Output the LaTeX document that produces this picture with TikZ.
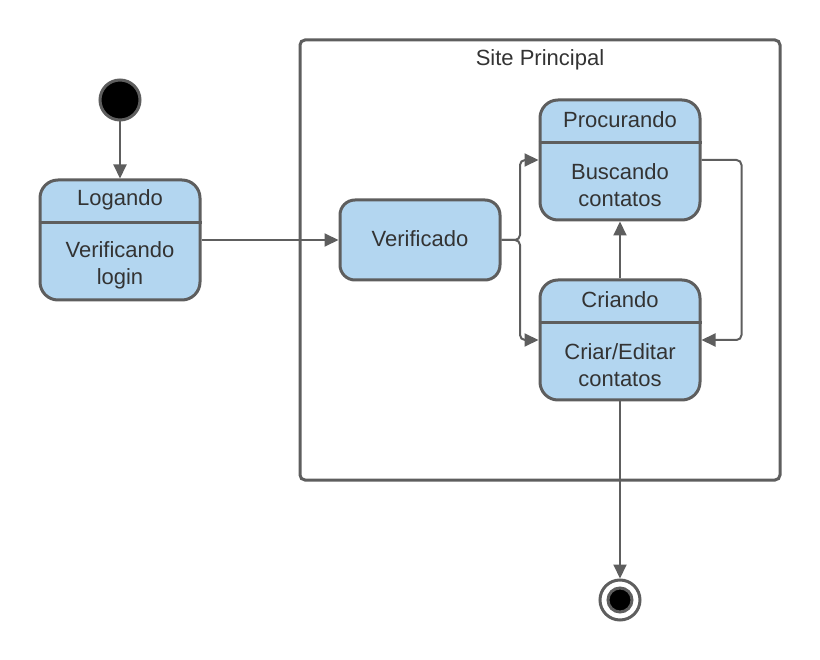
\documentclass[tikz,border=0pt]{standalone}
\usepackage{fontspec}
\setmainfont{Liberation Sans}
\usetikzlibrary{arrows.meta}
\definecolor{stategray}{HTML}{5E5E5E}
\definecolor{stateblue}{HTML}{B3D6F0}
\definecolor{textgray}{HTML}{333333}
\tikzset{
  statebox/.style={draw=stategray, fill=stateblue, line width=3pt, rounded corners=18pt,
    minimum width=160pt, minimum height=120pt, inner sep=0pt},
  flow/.style={draw=stategray, line width=2pt, rounded corners=5pt,
    -{Triangle[length=14pt,width=13pt]}},
  label/.style={font=\fontsize{22}{27}\selectfont, text=textgray, align=center, inner sep=0pt}
}
\begin{document}
\begin{tikzpicture}[x=1pt,y=-1pt]
\useasboundingbox (0,0) rectangle (820,660);
% frame
\draw [stategray, line width=3pt, rounded corners=5pt] (300,40) rectangle (780,480);
\node [label] (sitetitle) at (540,60) {Site Principal};
% start and end
\node [circle, draw=stategray, fill=black, line width=3pt, minimum size=40pt] (start) at (120,100) {};
\node [circle, draw=stategray, line width=3pt, minimum size=40pt] (finish) at (620,600) {};
\node [circle, draw=stategray, fill=black, line width=3pt, minimum size=24pt] (finishdot) at (620,600) {};
% states
\node [statebox] (logando) at (120,240) {};
\node [statebox, minimum height=80pt, rounded corners=15pt] (verificado) at (420,240) {};
\node [statebox] (procurando) at (620,160) {};
\node [statebox] (criando) at (620,340) {};
\foreach \s in {logando, procurando, criando} {
  \draw [stategray, line width=3pt] ([yshift=-44pt]\s.north west) -- ([yshift=-44pt]\s.north east);
}
\node [label] (logtitle) at ([yshift=-21pt]logando.north) {Logando};
\node [label] (logbody) at (120,265) {Verificando\\login};
\node [label] (vertitle) at (420,239) {Verificado};
\node [label] (protitle) at ([yshift=-21pt]procurando.north) {Procurando};
\node [label] (probody) at (620,185) {Buscando\\contatos};
\node [label] (critle) at ([yshift=-21pt]criando.north) {Criando};
\node [label] (cribody) at (620,365) {Criar/Editar\\contatos};
% connectors
\coordinate (fork) at (520,240);
\draw [flow] (start) -- (logando);
\draw [flow] (logando) -- (verificado);
\draw [flow] (verificado.east) -- (fork) |- (procurando.west);
\draw [flow] (verificado.east) -- (fork) |- (criando.west);
\draw [flow] (criando) -- (procurando);
\draw [flow] (procurando.east) -- ++(40,0) |- (criando.east);
\draw [flow] (criando) -- (finish);
\end{tikzpicture}
\end{document}
